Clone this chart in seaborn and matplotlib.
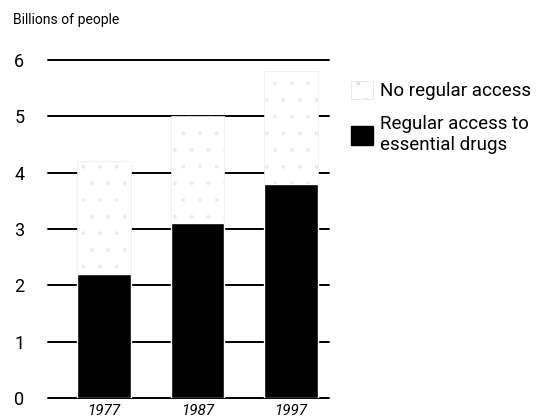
import pandas as pd
import seaborn as sns
import matplotlib.pyplot as plt
from matplotlib.patches import Patch

# Values (billions of people)
years = ["1977", "1987", "1997"]
regular_access = [2.2, 3.1, 3.8]
total_population = [4.2, 5.0, 5.8]
y_ticks = [0, 1, 2, 3, 4, 5, 6]

df = pd.DataFrame({"year": years, "regular": regular_access, "total": total_population})

sns.set_theme(style="white")
plt.rcParams["font.family"] = ["Roboto", "DejaVu Sans"]
plt.rcParams["text.color"] = "black"
plt.rcParams["xtick.color"] = "black"
plt.rcParams["ytick.color"] = "black"
plt.rcParams["hatch.color"] = "#e2e2e2"
plt.rcParams["hatch.linewidth"] = 0.5

fig = plt.figure(figsize=(5.47, 4.18), dpi=100)
ax = fig.add_axes([0.0878, 0.0478, 0.514, 0.8087])

# Gridlines behind bars
for t in y_ticks:
    ax.axhline(t, color="black", lw=1.4, zorder=0, clip_on=False)

# White "no regular access" part (full stack height), then black part on top
sns.barplot(data=df, x="year", y="total", color="white", saturation=1,
            width=0.57, ax=ax, zorder=2, edgecolor="#ececec", linewidth=0.5,
            hatch=".")
sns.barplot(data=df, x="year", y="regular", color="black", saturation=1,
            width=0.57, ax=ax, zorder=3)

ax.set_xlim(-0.6, 2.41)
ax.set_ylim(0, 6)
ax.set_yticks(y_ticks)
ax.set_yticklabels([str(t) for t in y_ticks], fontsize=13)
ax.set_xticks(range(len(years)))
ax.set_xticklabels(years, fontsize=11, style="italic")
ax.tick_params(axis="y", length=0, pad=17)
ax.tick_params(axis="x", length=0, pad=4.5)
ax.set_xlabel("")
ax.set_ylabel("")
sns.despine(ax=ax, left=True, bottom=True)

fig.text(0.024, 0.952, "Billions of people", fontsize=10, ha="left", va="center")

handles = [
    Patch(facecolor="white", edgecolor="#e0e0e0", hatch=".", linewidth=0.5,
          label="No regular access"),
    Patch(facecolor="black", edgecolor="black", label="Regular access to\nessential drugs"),
]
fig.legend(handles=handles, loc="upper left", bbox_to_anchor=(0.628, 0.825),
           frameon=False, fontsize=13.5, handlelength=1.15, handleheight=1.15,
           handletextpad=0.4, labelspacing=0.8, borderaxespad=0)

fig.savefig("out.png", dpi=100)
